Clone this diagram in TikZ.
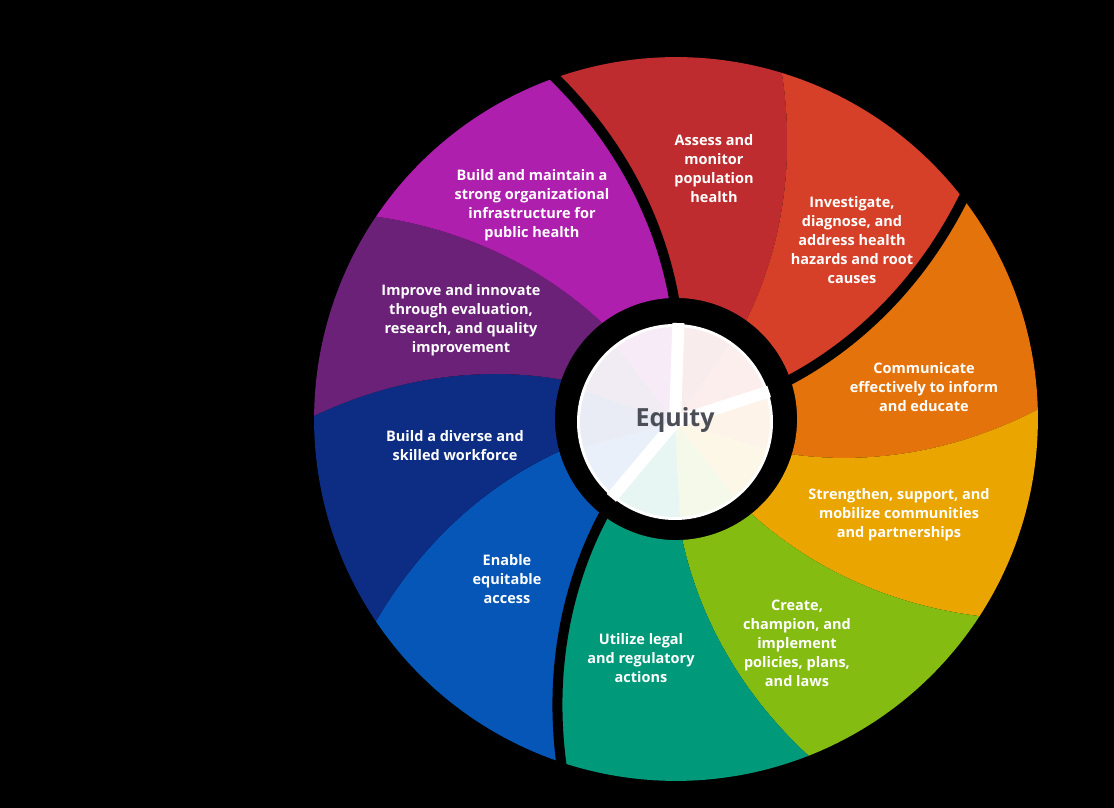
\documentclass[tikz,border=0pt]{standalone}
\usepackage{fontspec}
\setmainfont{Open Sans}
\definecolor{cAssess}{RGB}{190,44,47}
\definecolor{cInvest}{RGB}{214,64,40}
\definecolor{cComm}{RGB}{229,115,12}
\definecolor{cStren}{RGB}{234,165,0}
\definecolor{cCreate}{RGB}{132,188,18}
\definecolor{cUtil}{RGB}{0,153,121}
\definecolor{cEnable}{RGB}{6,86,184}
\definecolor{cDiverse}{RGB}{13,45,132}
\definecolor{cImprove}{RGB}{106,33,119}
\definecolor{cMaint}{RGB}{174,31,174}
\definecolor{cEquity}{RGB}{75,78,86}
\newcommand\wRin{121}
\newcommand\wRout{362}
\newcommand\wTw{18.5}
% #1 start boundary angle (larger), #2 end boundary angle (smaller), #3 colour
\newcommand\wheelseg[3]{%
  \fill[#3] plot[domain=0:1,samples=30] ({#1+\wTw*\x}:{\wRin+(\wRout-\wRin)*\x})
    arc[start angle={#1+\wTw}, end angle={#2+\wTw}, radius=\wRout]
    -- plot[domain=0:1,samples=30] ({#2+\wTw*(1-\x)}:{\wRin+(\wRout-\wRin)*(1-\x)})
    arc[start angle={#2}, end angle={#1}, radius=\wRin] -- cycle;}
\newcommand\wheelgap[1]{%
  \draw[black, line width=10pt] plot[domain=-0.06:1.06,samples=40] ({#1+\wTw*\x}:{\wRin+(\wRout-\wRin)*\x});}
\newcommand\innerwedge[3]{%
  \fill[#3!9] (0,0) -- (#1:95) arc[start angle={#1}, end angle={#2}, radius=95] -- cycle;}
\tikzset{
  lbl/.style={text=white, align=center, font=\bfseries\fontsize{14.5}{19}\selectfont, inner sep=0pt},
}
\begin{document}
\begin{tikzpicture}[x=1pt,y=1pt]
\fill[black] (0,0) rectangle (1114,808);
\useasboundingbox (0,0) rectangle (1114,808);
\begin{scope}[shift={(676,389)}]
  \wheelseg{91}{54.5}{cAssess}
  \wheelseg{54.5}{19}{cInvest}
  \wheelseg{19}{-17}{cComm}
  \wheelseg{-17}{-51.5}{cStren}
  \wheelseg{-51.5}{-87}{cCreate}
  \wheelseg{-87}{-127}{cUtil}
  \wheelseg{-127}{-164.5}{cEnable}
  \wheelseg{-164.5}{-199}{cDiverse}
  \wheelseg{-199}{-232.5}{cImprove}
  \wheelseg{-232.5}{-269}{cMaint}
  \wheelgap{91}
  \wheelgap{19}
  \wheelgap{-127}
\end{scope}
\begin{scope}[shift={(675,386)}]
  \fill[white] (0,0) circle[radius=98];
  \innerwedge{88}{54.5}{cAssess}
  \innerwedge{54.5}{18}{cInvest}
  \innerwedge{18}{-17}{cComm}
  \innerwedge{-17}{-51.5}{cStren}
  \innerwedge{-51.5}{-87}{cCreate}
  \innerwedge{-87}{-130}{cUtil}
  \innerwedge{-130}{-164.5}{cEnable}
  \innerwedge{-164.5}{-199}{cDiverse}
  \innerwedge{-199}{-232.5}{cImprove}
  \innerwedge{-232.5}{-272}{cMaint}
  \draw[white, line width=12pt] (0,0) -- (88:99);
  \draw[white, line width=12pt] (0,0) -- (18:99);
  \draw[white, line width=12pt] (0,0) -- (-130:99);
\end{scope}
\node[text=cEquity, font=\bfseries\fontsize{25}{30}\selectfont, anchor=base, inner sep=0pt] (equity) at (675,381) {Equity};
\node[lbl] (assess) at (714,639) {Assess and\\monitor\\population\\health};
\node[lbl] (invest) at (852,568) {Investigate,\\diagnose, and\\address health\\hazards and root\\causes};
\node[lbl] (comm) at (924,421) {Communicate\\effectively to inform\\and educate};
\node[lbl] (stren) at (899,293) {Strengthen, support, and\\mobilize communities\\and partnerships};
\node[lbl] (create) at (797,165) {Create,\\champion, and\\implement\\policies, plans,\\and laws};
\node[lbl] (util) at (641,150) {Utilize legal\\and regulatory\\actions};
\node[lbl] (enable) at (507,229) {Enable\\equitable\\access};
\node[lbl] (diverse) at (455,362.5) {Build a diverse and\\skilled workforce};
\node[lbl] (improve) at (461,487.5) {Improve and innovate\\through evaluation,\\research, and quality\\improvement};
\node[lbl] (maint) at (532,602.5) {Build and maintain a\\strong organizational\\infrastructure for\\public health};
\end{tikzpicture}
\end{document}
